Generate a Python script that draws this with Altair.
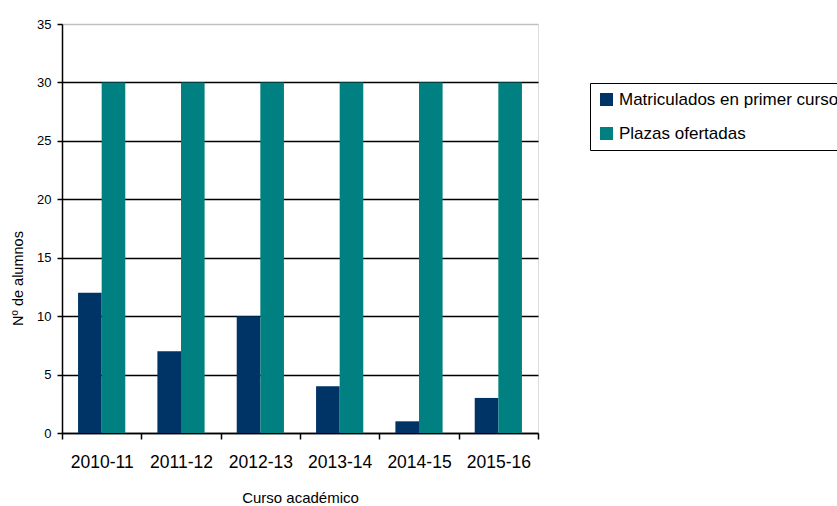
import altair as alt
import pandas as pd

cursos = ["2010-11", "2011-12", "2012-13", "2013-14", "2014-15", "2015-16"]
matriculados = [12, 7, 10, 4, 1, 3]
plazas = [30, 30, 30, 30, 30, 30]
series = ["Matriculados en primer curso", "Plazas ofertadas"]
colores = ["#003366", "#008080"]

rows = []
for c, m, p in zip(cursos, matriculados, plazas):
    rows.append({"curso": c, "serie": series[0], "valor": m})
    rows.append({"curso": c, "serie": series[1], "valor": p})
df = pd.DataFrame(rows)

font = "Liberation Sans"

chart = alt.Chart(df).mark_bar().encode(
    x=alt.X("curso:N", sort=cursos,
            scale=alt.Scale(paddingInner=0, paddingOuter=0),
            axis=alt.Axis(title="Curso académico", labelAngle=0, labelFontSize=17.5,
                          labelColor="black", titleColor="black", titleFontSize=15,
                          titleFontWeight="normal", tickBand="extent", tickSize=6,
                          tickColor="black", tickWidth=1.5, domainColor="black",
                          domainWidth=1.5, labelPadding=14, titleY=64,
                          titleBaseline="middle", labelFont=font, titleFont=font,
                          grid=False)),
    xOffset=alt.XOffset("serie:N", sort=series,
                        scale=alt.Scale(paddingOuter=0.68, paddingInner=0)),
    y=alt.Y("valor:Q",
            scale=alt.Scale(domain=[0, 35], nice=False),
            axis=alt.Axis(title="Nº de alumnos", values=[0, 5, 10, 15, 20, 25, 30, 35],
                          labelFontSize=13, labelColor="black", titleColor="black",
                          titleFontSize=14.5, titleFontWeight="normal", tickSize=5,
                          tickColor="black", tickWidth=1.5, domainColor="black",
                          domainWidth=1.5, labelPadding=6, titleX=-44, titleY=254,
                          titleBaseline="middle", labelFont=font, titleFont=font,
                          grid=True, gridWidth=1.5,
                          gridColor={"condition": {"test": "datum.value === 35", "value": "#c0c0c0"},
                                     "value": "black"})),
    color=alt.Color("serie:N", sort=series,
                    scale=alt.Scale(domain=series, range=colores),
                    legend=alt.Legend(title=None, orient="none", legendX=528, legendY=59,
                                      symbolType="square", symbolSize=169,
                                      symbolStrokeWidth=0, labelFontSize=17,
                                      labelFont=font, labelColor="black",
                                      strokeColor="black", fillColor="white",
                                      padding=8, rowPadding=16, labelOffset=4,
                                      labelLimit=400)),
).properties(
    width=476, height=409,
    autosize=alt.AutoSizeParams(type="none"),
    padding={"left": 62, "top": 24, "right": 299, "bottom": 73},
).configure_view(stroke=None).configure(background="white")

chart.save("out.html", embed_options={"renderer": "svg", "actions": False})
